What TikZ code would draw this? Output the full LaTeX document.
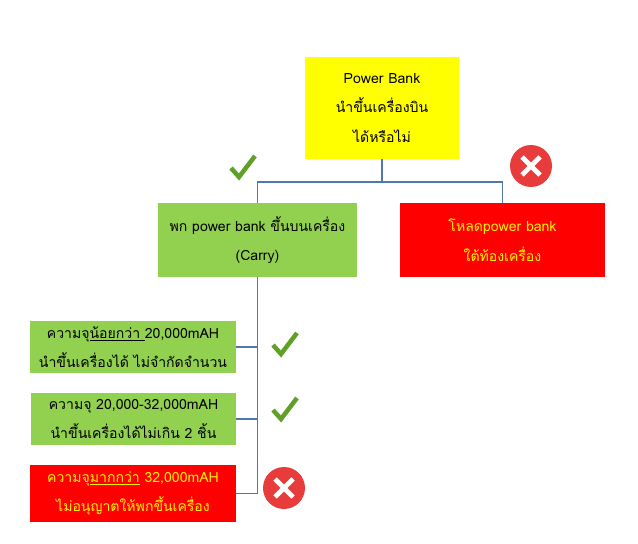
\documentclass[tikz,border=0pt]{standalone}
\usepackage{fontspec}
\newfontfamily\thaifont[Script=Thai]{Loma}
\usetikzlibrary{positioning}
\definecolor{boxgreen}{RGB}{146,208,80}
\definecolor{boxyellow}{RGB}{255,255,0}
\definecolor{boxred}{RGB}{255,0,0}
\definecolor{linkblue}{RGB}{80,120,170}
\definecolor{tickgreen}{RGB}{96,160,40}
\definecolor{crossred}{RGB}{232,60,60}
\tikzset{
  box/.style = {rectangle, inner sep=0pt, align=center, font=\thaifont\fontsize{10}{21}\selectfont},
  okbox/.style = {box, fill=boxgreen},
  nobox/.style = {box, fill=boxred, text=yellow},
  link/.style = {draw=linkblue, line width=0.8pt},
  tick/.pic = {\draw [tickgreen, line width=3.2pt] (-11,0) -- (-3,9) -- (13,-12);},
  cross/.pic = {\fill [crossred] (0,0) circle (21);
    \draw [white, line width=3.5pt] (-9,-9) -- (9,9) (-9,9) -- (9,-9);}
}
\begin{document}
\begin{tikzpicture}[x=0.025cm, y=-0.025cm]
\useasboundingbox (0,0) rectangle (638,544);
\node [box, fill=boxyellow, minimum width=154*0.025cm, minimum height=102*0.025cm] (Q) at (382,108) {Power Bank\\นำขึ้นเครื่องบิน\\ได้หรือไม่};
\node [okbox, minimum width=199*0.025cm, minimum height=74*0.025cm] (Carry) at (257.5,240) {พก power bank ขึ้นบนเครื่อง\\(Carry)};
\node [nobox, minimum width=205*0.025cm, minimum height=74*0.025cm] (Load) at (502.5,240) {โหลดpower bank\\ใต้ท้องเครื่อง};
\node [okbox, minimum width=206*0.025cm, minimum height=52*0.025cm] (Low) at (133,347) {ความจุ\underline{น้อยกว่า }20,000mAH\\นำขึ้นเครื่องได้ ไม่จำกัดจำนวน};
\node [okbox, minimum width=205*0.025cm, minimum height=52*0.025cm] (Mid) at (133.5,419) {ความจุ 20,000-32,000mAH\\นำขึ้นเครื่องได้ไม่เกิน 2 ชิ้น};
\node [nobox, minimum width=206*0.025cm, minimum height=57*0.025cm] (High) at (133,493.5) {ความจุ\underline{มากกว่า} 32,000mAH\\ไม่อนุญาตให้พกขึ้นเครื่อง};
\coordinate (J) at (382,182);
\draw [link] (Q.south) -- (J) -| (Carry.north);
\draw [link] (J) -| (Load.north);
\draw [link] (Carry.south) |- (High.east);
\draw [link] (Low.east) -- (Carry.south |- Low.east);
\draw [link] (Mid.east) -- (Carry.south |- Mid.east);
\pic at (242,168) {tick};
\pic at (284,345) {tick};
\pic at (284,410) {tick};
\pic at (531,166) {cross};
\pic at (284,488) {cross};
\end{tikzpicture}
\end{document}
